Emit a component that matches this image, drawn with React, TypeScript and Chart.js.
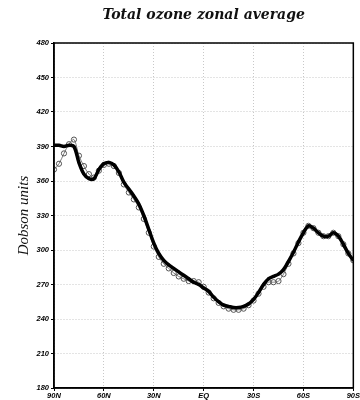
import React, { useEffect, useRef } from "react";
import { Chart, registerables } from "chart.js";

Chart.register(...registerables);

const chartTitle = "Total ozone zonal average";
const yAxisTitle = "Dobson units";

// latitude (degrees, + = North)
const latitude = [
  90, 87, 84, 81, 78, 75, 72, 69, 66, 63, 60, 57, 54, 51, 48, 45, 42, 39, 36, 33, 30,
  27, 24, 21, 18, 15, 12, 9, 6, 3, 0, -3, -6, -9, -12, -15, -18, -21, -24, -27, -30,
  -33, -36, -39, -42, -45, -48, -51, -54, -57, -60, -63, -66, -69, -72, -75, -78, -81,
  -84, -87, -90,
];

// filled markers with line
const ozoneFilled = [
  391, 391, 390, 391, 390, 376, 366, 362, 362, 370, 375, 376, 374, 368, 359, 353, 347, 340,
  330, 318, 306, 297, 291, 287, 284, 281, 278, 275, 272, 270, 267, 264, 259, 255, 252, 251,
  250, 250, 251, 253, 257, 263, 270, 275, 277, 279, 283, 290, 298, 307, 315, 321, 319, 315,
  312, 312, 315, 312, 305, 297, 291,
];

// open circles
const ozoneOpen = [
  370, 375, 384, 392, 396, 382, 373, 366, 363, 369, 374, 375, 373, 367, 357, 350, 344, 337,
  327, 315, 303, 294, 288, 284, 280, 277, 275, 273, 273, 272, 268, 263, 258, 254, 251, 249,
  248, 248, 249, 252, 256, 262, 268, 272, 272, 273, 279, 288, 297, 306, 315, 321, 319, 315,
  312, 312, 315, 312, 305, 297, 291,
];

const xTickValues = [90, 60, 30, 0, -30, -60, -90];
const xTickLabels = ["90N", "60N", "30N", "EQ", "30S", "60S", "90S"];
const yMin = 180;
const yMax = 480;
const yStep = 30;

const framePlugin = {
  id: "frameAndTitle",
  afterDraw(chart: any) {
    const { ctx, chartArea: a } = chart;
    ctx.save();
    ctx.strokeStyle = "#000";
    ctx.lineWidth = 1.5;
    ctx.strokeRect(a.left, a.top, a.right - a.left, a.bottom - a.top);
    ctx.fillStyle = "#111";
    ctx.font = "italic bold 14px 'DejaVu Serif'";
    ctx.textAlign = "center";
    ctx.textBaseline = "middle";
    ctx.fillText(chartTitle, (a.left + a.right) / 2, 15);
    ctx.restore();
  },
};

export default function App() {
  const ref = useRef<HTMLCanvasElement | null>(null);
  useEffect(() => {
    if (!ref.current) return;
    const tickFont = { family: "'Liberation Sans'", size: 7.5, style: "italic" as const, weight: "bold" as const };
    const chart = new Chart(ref.current, {
      type: "line",
      data: {
        datasets: [
          {
            label: "filled",
            data: latitude.map((x, i) => ({ x, y: ozoneFilled[i] })),
            borderColor: "#000",
            backgroundColor: "#000",
            borderWidth: 3.5,
            pointRadius: 1.4,
            pointBorderWidth: 0,
            pointBackgroundColor: "#000",
            pointBorderColor: "#000",
            tension: 0.35,
            order: 0,
          },
          {
            label: "open",
            data: latitude.map((x, i) => ({ x, y: ozoneOpen[i] })),
            borderColor: "rgba(90,90,90,0.8)",
            backgroundColor: "rgba(255,255,255,0)",
            borderWidth: 1,
            pointRadius: 2.6,
            pointBorderWidth: 1,
            pointBackgroundColor: "rgba(255,255,255,0)",
            pointBorderColor: "#555",
            tension: 0.35,
            order: 1,
          },
        ],
      },
      options: {
        animation: false,
        responsive: false,
        maintainAspectRatio: false,
        layout: { padding: { top: 43, right: 2, left: 0, bottom: 0 }, autoPadding: false },
        plugins: { legend: { display: false }, tooltip: { enabled: false }, title: { display: false } },
        scales: {
          x: {
            type: "linear",
            reverse: true,
            min: -90,
            max: 90,
            afterBuildTicks: (s: any) => {
              s.ticks = xTickValues.map((v) => ({ value: v }));
            },
            afterFit: (s: any) => {
              s.height = 12;
            },
            ticks: {
              font: tickFont,
              color: "#000",
              padding: 0,
              maxRotation: 0,
              autoSkip: false,
              callback: (v: any) => xTickLabels[xTickValues.indexOf(Number(v))] ?? "",
            },
            grid: { color: "#c8c8c8", tickColor: "#000", tickLength: 3, lineWidth: 1 },
            border: { color: "#000", width: 1.5, dash: [1, 2] },
          },
          y: {
            type: "linear",
            min: yMin,
            max: yMax,
            afterFit: (s: any) => {
              s.width = 54;
            },
            ticks: { stepSize: yStep, font: tickFont, color: "#000", padding: 2 },
            grid: { color: "#c8c8c8", tickColor: "#000", tickLength: 3, lineWidth: 1 },
            border: { color: "#000", width: 1.5, dash: [1, 2] },
            title: {
              display: true,
              text: yAxisTitle,
              color: "#111",
              font: { family: "'Liberation Serif'", size: 15, style: "italic" },
              padding: { top: 15, bottom: 0 },
            },
          },
        },
      },
      plugins: [framePlugin],
    });
    return () => chart.destroy();
  }, []);
  return (
    <div style={{ position: "fixed", left: 0, top: 0, width: 360, height: 400, background: "#fff" }}>
      <canvas ref={ref} width={360} height={400} style={{ width: 360, height: 400, display: "block" }} />
    </div>
  );
}
